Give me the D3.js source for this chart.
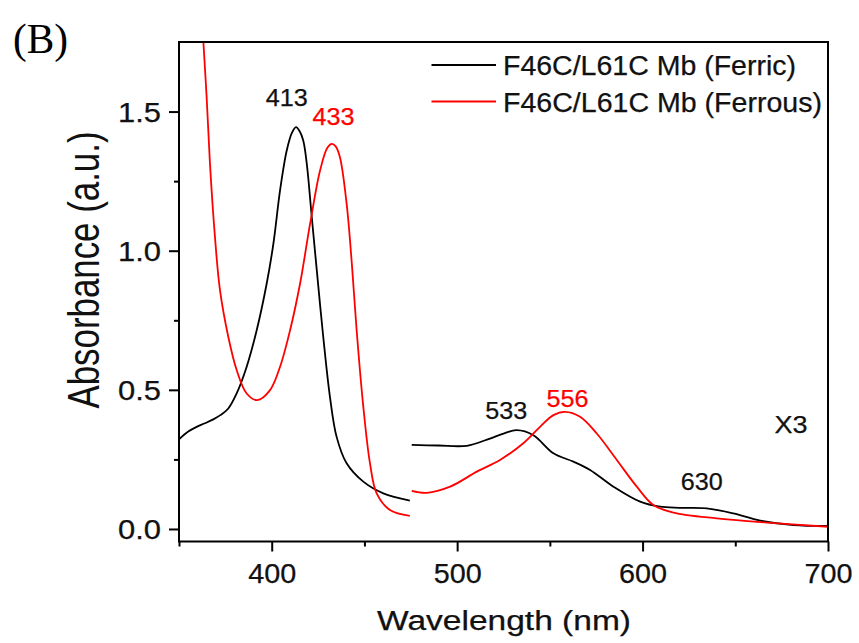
<!DOCTYPE html>
<html><head><meta charset="utf-8">
<script src="https://cdn.jsdelivr.net/npm/d3@7"></script>
<style>body{margin:0;background:#fff}svg{display:block}</style>
</head><body>
<svg id="c" width="859" height="643"></svg>
<script>
// ---- data ----
const ferricLeftWl  = [350,355,359.5,364,368.5,372.5,376.6,381.1,386.5,391.9,397.3,400.9,404.5,408.1,411,413.1,415,417,418.9,421.6,424.3,427.8,431.4,435,440.4,449.4,460.2,474.5];
const ferricLeftAbs = [0.322,0.350,0.367,0.380,0.394,0.410,0.433,0.487,0.583,0.714,0.882,1.025,1.217,1.360,1.425,1.444,1.43,1.396,1.313,1.121,0.930,0.690,0.475,0.331,0.236,0.170,0.128,0.102];
const ferrousLeftWl  = [356,360,363.1,364.9,366.7,369.4,372.1,376.6,381.1,386.5,392.2,399.1,404.5,409.9,415.3,420.7,426.1,430,432.4,434.5,436.8,440.4,443.2,445.8,449.4,453,456.6,463.8,474.5];
const ferrousLeftAbs = [2.5,2.1,1.755,1.552,1.313,1.049,0.858,0.690,0.571,0.487,0.463,0.499,0.583,0.714,0.882,1.097,1.289,1.37,1.384,1.375,1.336,1.169,0.954,0.714,0.439,0.236,0.128,0.068,0.047];
const ferricRightWl  = [475.5,490,505.2,517.7,525,532.1,541.1,551.9,562.7,571.7,584.3,598.7,609.4,620,634.6,649,663.4,681.3,700];
const ferricRightAbs = [0.302,0.300,0.299,0.325,0.343,0.355,0.337,0.272,0.242,0.212,0.152,0.098,0.080,0.076,0.074,0.056,0.030,0.014,0.011];
const ferrousRightWl  = [475.5,483.6,496.2,510.6,523.1,535.7,544.7,551.9,558.2,566.3,575.3,586.1,596.9,605.8,616.6,640,667,700];
const ferrousRightAbs = [0.137,0.130,0.152,0.206,0.248,0.308,0.367,0.409,0.421,0.403,0.343,0.248,0.152,0.086,0.059,0.038,0.023,0.008];
const seriesNames = ["F46C/L61C Mb (Ferric)","F46C/L61C Mb (Ferrous)"];
const seriesColors = ["#000000","#ff0000"];
const xMajorTicks = [400,500,600,700];
const xMinorTicks = [350,450,550,650];
const yMajorTicks = [0.0,0.5,1.0,1.5];
const yMinorTicks = [0.25,0.75,1.25];
const peakLabels = ["413","433","533","556","630"];
const peakLabelWl = [413,433,533,556,630];
const peakLabelAbs = [1.52,1.45,0.395,0.44,0.14];
const peakLabelSeries = [0,1,0,1,0];

// ---- layout ----
const SANS = "Arial,'Liberation Sans',sans-serif";
const svg = d3.select("#c").style("font-family",SANS);
const L=179,R=828,T=42,B=541.5;
const x = d3.scaleLinear().domain([350,700]).range([L,R]);
const y = d3.scaleLinear().domain([-0.045,1.75]).range([B,T]);
const FS=27;
const labelDx = [-9,0.6,-12,6.6,3.5];   // label offsets (px) from the peak position

svg.append("defs").append("clipPath").attr("id","clip")
  .append("rect").attr("x",L).attr("y",T).attr("width",R-L).attr("height",B-T);

const line = d3.line().x(d=>x(d[0])).y(d=>y(d[1])).curve(d3.curveCatmullRom.alpha(0.5));
const segs = [
  [ferricLeftWl,ferricLeftAbs,0],[ferricRightWl,ferricRightAbs,0],
  [ferrousLeftWl,ferrousLeftAbs,1],[ferrousRightWl,ferrousRightAbs,1]
];
const gLines = svg.append("g").attr("clip-path","url(#clip)");
segs.forEach(([w,a,s])=>{
  gLines.append("path").datum(d3.zip(w,a)).attr("d",line)
    .attr("fill","none").attr("stroke",seriesColors[s]).attr("stroke-width",1.8)
    .attr("stroke-linejoin","round");
});

// axes
const xAx = svg.append("g").attr("transform",`translate(0,${B})`)
  .call(d3.axisBottom(x).tickValues(xMajorTicks).tickSize(10).tickFormat(d3.format("d")));
svg.append("g").attr("transform",`translate(0,${B})`)
  .call(d3.axisBottom(x).tickValues(xMinorTicks).tickSize(5).tickFormat(""));
const yAx = svg.append("g").attr("transform",`translate(${L},0)`)
  .call(d3.axisLeft(y).tickValues(yMajorTicks).tickSize(10).tickPadding(8).tickFormat(d3.format(".1f")));
svg.append("g").attr("transform",`translate(${L},0)`)
  .call(d3.axisLeft(y).tickValues(yMinorTicks).tickSize(5).tickFormat(""));
svg.selectAll(".domain").remove();
svg.selectAll(".tick line").attr("stroke","#000").attr("stroke-width",2);
svg.selectAll(".tick text").style("font-family",SANS).style("font-size",FS+"px").attr("fill","#111")
  .attr("stroke","#111").attr("stroke-width",0.25);
xAx.selectAll("text").attr("y",41).attr("dy",0)
  .attr("textLength",48).attr("lengthAdjust","spacingAndGlyphs");
yAx.selectAll("text").attr("dy","0.36em")
  .attr("textLength",43).attr("lengthAdjust","spacingAndGlyphs");

// frame
svg.append("rect").attr("x",L).attr("y",T).attr("width",R-L).attr("height",B-T)
  .attr("fill","none").attr("stroke","#000").attr("stroke-width",2);

// axis titles
svg.append("text").attr("x",504).attr("y",630).attr("text-anchor","middle")
  .style("font-size",FS+"px").attr("fill","#111").attr("stroke","#111").attr("stroke-width",0.25)
  .attr("textLength",254).attr("lengthAdjust","spacingAndGlyphs")
  .text("Wavelength (nm)");
svg.append("text").attr("transform","translate(98.5,270) rotate(-90)").attr("text-anchor","middle")
  .style("font-size","44px").attr("fill","#111").attr("textLength",277).attr("lengthAdjust","spacingAndGlyphs")
  .text("Absorbance (a.u.)");

// panel label
svg.append("text").attr("x",13).attr("y",53)
  .style("font-family","'Liberation Serif','Times New Roman',serif").style("font-size","42px")
  .attr("fill","#000").attr("textLength",55).attr("lengthAdjust","spacingAndGlyphs").text("(B)");

// legend
const legY=[65,101.5], legTextY=[75,111.5], legW=[293,319];
seriesNames.forEach((n,i)=>{
  svg.append("line").attr("x1",431.5).attr("x2",496).attr("y1",legY[i]).attr("y2",legY[i])
    .attr("stroke",seriesColors[i]).attr("stroke-width",1.8);
  svg.append("text").attr("x",503).attr("y",legTextY[i]).style("font-size",FS+"px").attr("fill","#111")
    .attr("stroke","#111").attr("stroke-width",0.25)
    .attr("textLength",legW[i]).attr("lengthAdjust","spacingAndGlyphs").text(n);
});

// peak annotations
peakLabels.forEach((t,i)=>{
  const c = peakLabelSeries[i]?"#ff0000":"#111";
  svg.append("text").attr("x",x(peakLabelWl[i])+labelDx[i]).attr("y",y(peakLabelAbs[i]))
    .attr("text-anchor","middle").style("font-size","24.5px")
    .attr("fill",c).attr("stroke",c).attr("stroke-width",0.25)
    .attr("textLength",42).attr("lengthAdjust","spacingAndGlyphs").text(t);
});
svg.append("text").attr("x",791).attr("y",432.7).attr("text-anchor","middle").style("font-size","24.5px")
  .attr("fill","#111").attr("stroke","#111").attr("stroke-width",0.25)
  .attr("textLength",33).attr("lengthAdjust","spacingAndGlyphs").text("X3");
</script>
</body></html>
